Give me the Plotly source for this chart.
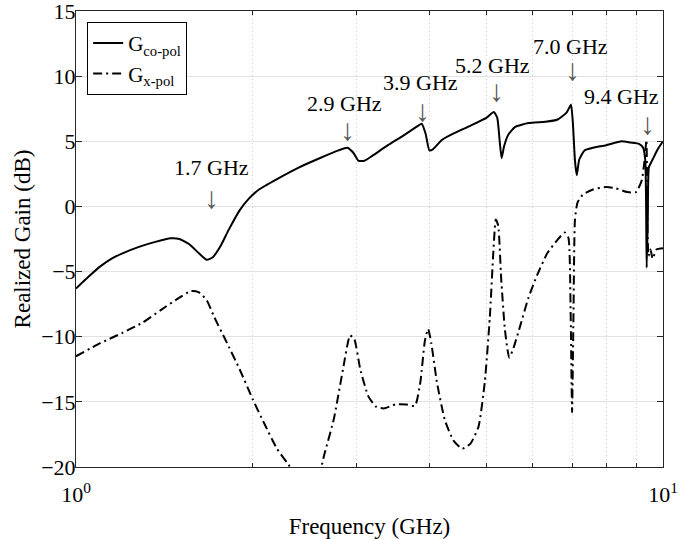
import numpy as np
import plotly.graph_objects as go

# Co-polar realized gain
f_co = [1.0, 1.05, 1.1, 1.15, 1.2, 1.28, 1.37, 1.45, 1.5, 1.56, 1.62, 1.67, 1.71, 1.76,
        1.82, 1.9, 1.97, 2.05, 2.2, 2.4, 2.6, 2.8, 2.9, 2.97, 3.03, 3.1, 3.2, 3.4, 3.6,
        3.8, 3.88, 3.94, 4.0, 4.06, 4.2, 4.4, 4.7, 5.0, 5.15, 5.22, 5.27, 5.31, 5.36,
        5.45, 5.6, 5.9, 6.3, 6.6, 6.85, 6.97, 7.02, 7.08, 7.13, 7.2, 7.35, 7.6, 8.0,
        8.5, 8.8, 9.1, 9.25, 9.33, 9.38, 9.42, 9.46, 9.55, 9.65, 9.8, 10.0]
g_co = [-6.3, -5.4, -4.6, -4.0, -3.6, -3.1, -2.7, -2.45, -2.5, -2.9, -3.6, -4.1, -3.9, -3.1,
        -1.8, -0.3, 0.6, 1.3, 2.1, 3.0, 3.7, 4.3, 4.5, 4.1, 3.5, 3.5, 3.9, 4.7, 5.4,
        6.1, 6.35, 5.6, 4.3, 4.4, 5.1, 5.6, 6.2, 6.8, 7.25, 6.8, 5.0, 3.7, 4.6,
        5.5, 6.1, 6.4, 6.5, 6.65, 7.2, 7.8, 6.5, 3.5, 2.4, 3.6, 4.3, 4.5, 4.7,
        5.0, 4.9, 4.8, 4.5, 3.5, -4.7, -1.0, 3.0, 3.4, 3.8, 4.4, 5.0]

# Cross-polar realized gain
f_x = [1.0, 1.1, 1.2, 1.3, 1.4, 1.5, 1.57, 1.62, 1.67, 1.72, 1.8, 1.9, 2.0, 2.1, 2.2,
       2.3, 2.4, 2.5, 2.58, 2.65, 2.75, 2.85, 2.93, 2.98, 3.05, 3.15, 3.25, 3.35, 3.5,
       3.65, 3.78, 3.86, 3.93, 3.98, 4.03, 4.12, 4.25, 4.4, 4.55, 4.7, 4.85, 4.97,
       5.07, 5.14, 5.19, 5.24, 5.3, 5.38, 5.47, 5.55, 5.7, 5.9, 6.1, 6.35, 6.6, 6.8,
       6.9, 6.96, 7.0, 7.04, 7.08, 7.15, 7.3, 7.6, 8.0, 8.3, 8.7, 9.0, 9.2, 9.3, 9.37,
       9.41, 9.45, 9.52, 9.6, 9.75, 10.0]
g_x = [-11.5, -10.5, -9.7, -8.9, -7.9, -7.0, -6.5, -6.6, -7.2, -8.5, -10.3, -12.5, -14.8,
       -16.8, -18.6, -19.8, -21.0, -21.5, -21.0, -19.0, -16.3, -12.5, -9.9, -10.2, -12.5,
       -14.6, -15.4, -15.5, -15.2, -15.2, -15.3, -13.5, -10.3, -9.4, -10.5, -13.5, -16.4,
       -18.0, -18.6, -18.2, -16.9, -13.5, -8.5, -3.5, -1.0, -1.5, -5.5, -9.5, -11.6,
       -11.0, -9.3, -7.0, -5.3, -3.6, -2.6, -2.0, -2.4, -8.0, -15.8, -8.0, -1.0, 0.3,
       0.9, 1.3, 1.5, 1.4, 1.1, 1.1, 2.0, 3.5, 5.1, -2.0, -3.8, -3.3, -4.0, -3.3, -3.2]

# Resonance labels: frequency, label position, arrow height (dB)
res_freq = [1.7, 2.9, 3.9, 5.2, 7.0, 9.4]
res_text = ["1.7 GHz", "2.9 GHz", "3.9 GHz", "5.2 GHz", "7.0 GHz", "9.4 GHz"]
res_label_x = [1.7, 2.87, 3.86, 5.13, 6.97, 8.5]
res_label_y = [2.95, 7.9, 9.5, 10.85, 12.3, 8.4]
res_arrow_y = [0.7, 5.9, 7.4, 8.9, 10.5, 6.4]

font = "Liberation Serif"
fs = 22

fig = go.Figure()
fig.add_trace(go.Scatter(x=f_co, y=g_co, mode="lines", name="G<sub>co-pol</sub>",
                         line=dict(color="black", width=2, shape="spline", smoothing=0.5)))
fig.add_trace(go.Scatter(x=f_x, y=g_x, mode="lines", name="G<sub>x-pol</sub>",
                         line=dict(color="black", width=2, dash="9px,4px,2px,4px",
                                   shape="spline", smoothing=0.5)))

for fl, fa, t, ly, ay in zip(res_label_x, res_freq, res_text, res_label_y, res_arrow_y):
    fig.add_annotation(x=np.log10(fl), y=ly, text=t, showarrow=False,
                       font=dict(family=font, size=fs, color="black"))
    fig.add_annotation(x=np.log10(fa), y=ay, text="↓", showarrow=False,
                       font=dict(family=font, size=30, color="#555555"))

axis_common = dict(showline=True, linecolor="#262626", linewidth=1, mirror="ticks",
                   ticks="inside", tickcolor="#262626", zeroline=False, automargin=False,
                   ticklabeloverflow="allow",
                   tickfont=dict(family=font, size=fs, color="black"))

fig.update_layout(
    width=699, height=539,
    margin=dict(l=76, r=36, t=11, b=72),
    plot_bgcolor="white", paper_bgcolor="white",
    font=dict(family=font, size=fs, color="black"),
    xaxis=dict(type="log", range=[0, 1],
               tickvals=[1, 10], ticktext=["10<sup>0</sup>", "10<sup>1</sup>"],
               showgrid=False, ticklen=6, ticklabelstandoff=8,
               minor=dict(tickvals=[2, 3, 4, 5, 6, 7, 8, 9], ticks="inside", ticklen=4,
                          tickcolor="#262626", showgrid=True, gridcolor="#cfcfcf",
                          griddash="1px,3px", gridwidth=1),
               title=dict(text="Frequency (GHz)", font=dict(family=font, size=23), standoff=14),
               **axis_common),
    yaxis=dict(range=[-20, 15], dtick=5, ticklen=6, ticklabelstandoff=-5,
               showgrid=True, gridcolor="#e3e3e3",
               title=dict(text="Realized Gain (dB)", font=dict(family=font, size=23), standoff=4),
               **axis_common),
    legend=dict(x=0.019, y=0.976, xanchor="left", yanchor="top",
                bgcolor="white", bordercolor="black", borderwidth=1,
                font=dict(family=font, size=21), tracegroupgap=0),
    showlegend=True,
)

# page body has a default margin; drop it so the figure sits at the window corner
fig.write_html("out.html", config={"displayModeBar": False},
               post_script="document.body.style.margin='0';")
